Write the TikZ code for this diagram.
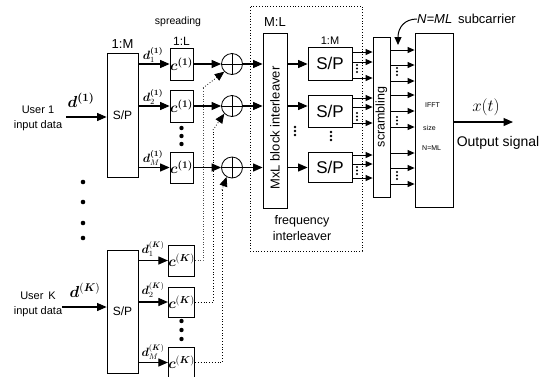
\RequirePackage{fix-cm}
\documentclass[tikz,border=0pt]{standalone}
\usepackage{bm}
\usepackage{fontspec}
\setmainfont{Liberation Sans}
\usetikzlibrary{arrows.meta,calc}
\begin{document}
\begin{tikzpicture}[x=1pt,y=-1pt,
  box/.style={draw,line width=0.8pt,inner sep=0pt,fill=white},
  arr/.style={line width=1.1pt,-{Triangle[length=9.5pt,width=8pt]}},
  sarr/.style={line width=0.9pt,-{Triangle[length=7pt,width=6pt]}},
  darr/.style={dotted,line width=0.8pt,-{Triangle[length=9.5pt,width=8pt]}},
  plus/.style={circle,draw,line width=0.8pt,minimum size=21pt,inner sep=0pt},
  lab/.style={inner sep=0pt},
  clab/.style={font=\fontsize{14.5}{14.5}\selectfont},
  dlab/.style={lab,font=\fontsize{12}{12}\selectfont},
]
\useasboundingbox (0,0) rectangle (549,376);

% frame
\node[draw,dotted,line width=0.8pt,minimum width=112pt,minimum height=245pt,inner sep=0pt] (frame) at (306,128.5) {};

% top labels
\node[lab,font=\fontsize{10.5}{10.5}\selectfont] (spread) at (178,22) {spreading};
\node[lab,font=\fontsize{13}{13}\selectfont] (r1m) at (122.5,44) {1:M};
\node[lab,font=\fontsize{12}{12}\selectfont] (r1l) at (181.5,41) {1:L};
\node[lab,font=\fontsize{13}{13}\selectfont] (rml) at (275,22) {M:L};
\node[lab,font=\fontsize{11}{11}\selectfont] (r1m2) at (330,41) {1:M};

% user 1
\node[lab,align=center,font=\fontsize{11}{15}\selectfont] (u1txt) at (38,118) {User 1\\input data};
\node[lab,font=\fontsize{16}{16}\selectfont] (d1in) at (81,100) {$\bm{d}^{\bm{(1)}}$};
\node[box,minimum width=31pt,minimum height=124pt,font=\fontsize{12}{12}\selectfont] (sp1) at (122.5,115) {S/P};
\coordinate (u1) at (66,117);
\draw[arr] (u1) -- (u1 -| sp1.west);

\foreach \n/\y/\h in {1/64/32,2/106/32,m/167.5/31}{
  \node[box,minimum width=23pt,minimum height=\h pt,clab] (c1\n) at (181.5,\y) {$\bm{c}^{\bm{(1)}}$};
  \draw[arr] (sp1.east |- c1\n) -- (c1\n.west);
  \node[plus] (p\n) at (232,\y) {};
  \draw[line width=0.8pt] (p\n.north) -- (p\n.south) (p\n.west) -- (p\n.east);
  \draw[arr] (c1\n.east) -- (p\n.west);
}
\node[dlab] (d11) at (153,55) {$\bm{d}_1^{\bm{(1)}}$};
\node[dlab] (d12) at (153,97) {$\bm{d}_2^{\bm{(1)}}$};
\node[dlab] (d1m) at (153,158) {$\bm{d}_M^{\bm{(1)}}$};
\foreach \y in {128,136,144}{\fill (181.5,\y) circle (2.2);}

% users dots
\foreach \y in {182,202,223,238}{\fill (83,\y) circle (2.3);}

% user K
\node[lab,align=center,font=\fontsize{11}{15}\selectfont] (uktxt) at (38,304) {User\, K\\input data};
\node[lab,font=\fontsize{16}{16}\selectfont] (dkin) at (85,290) {$\bm{d}^{(\bm{K})}$};
\node[box,minimum width=31pt,minimum height=123pt,font=\fontsize{12}{12}\selectfont] (spk) at (122.5,311.5) {S/P};
\coordinate (uk) at (62,307);
\draw[arr] (uk) -- (uk -| spk.west);
\foreach \n/\y/\h in {1/260.5/31,2/302/30,m/362.5/31}{
  \node[box,minimum width=23pt,minimum height=\h pt,clab] (ck\n) at (181.5,\y) {$\bm{c}^{(\bm{K})}$};
  \draw[arr] (spk.east |- ck\n) -- (ck\n.west);
}
\node[dlab] (dk1) at (153,249) {$\bm{d}_1^{(\bm{K})}$};
\node[dlab] (dk2) at (153,290) {$\bm{d}_2^{(\bm{K})}$};
\node[dlab] (dkm) at (153,352) {$\bm{d}_M^{(\bm{K})}$};
\foreach \y in {321,330,339}{\fill (181.5,\y) circle (2.2);}

% dotted feeds from user K to adders
\draw[dotted,line width=0.6pt,black!70] (ck1.east) -- (ck1.east -| 203,0) -- (203,88);
\draw[darr] (203,88) -- (p1.225);
\draw[dotted,line width=0.8pt] (ck2.east) -- (ck2.east -| 213,0) -- (213,130);
\draw[darr] (213,130) -- (p2.225);
\draw[dotted,line width=0.8pt] (ckm.east) -- (ckm.east -| 222,0) -- (222,190);
\draw[darr] (222,190) -- (pm.240);

% interleaver
\node[box,minimum width=24pt,minimum height=175pt] (il) at (275,120.5) {};
\node[lab,rotate=90,font=\fontsize{13}{13}\selectfont] (iltxt) at (275,128) {MxL block interleaver};
\foreach \n in {1,2,m}{\draw[arr] (p\n.east) -- (p\n.east -| il.west);}
\node[lab,align=center,font=\fontsize{12.5}{15.5}\selectfont] (fitxt) at (302,228) {frequency\\interleaver};

% right S/P
\node[box,minimum width=44pt,minimum height=33pt,font=\fontsize{17}{17}\selectfont] (spr1) at (330,63.5) {S/P};
\node[box,minimum width=44pt,minimum height=32pt,font=\fontsize{17}{17}\selectfont] (spr2) at (330,111) {S/P};
\node[box,minimum width=44pt,minimum height=30pt,font=\fontsize{17}{17}\selectfont] (spr3) at (330,167) {S/P};
\draw[arr] (il.east |- p1) -- (spr1.west |- p1);
\draw[arr] (il.east |- p2) -- (spr2.west |- p2);
\draw[arr] (il.east |- pm) -- (spr3.west |- pm);
\foreach \y in {127,131,135}{\fill (295,\y) circle (1.3);}
\foreach \y in {132,136,140}{\fill (331,\y) circle (1.3);}

% scrambling
\node[box,minimum width=17pt,minimum height=160pt] (scr) at (381.5,117) {};
\node[lab,rotate=90,font=\fontsize{12.5}{12.5}\selectfont] (scrtxt) at (381.5,117) {scrambling};
\foreach \y in {52,62,78}{\draw[sarr] (spr1.east |- 0,\y) -- (scr.west |- 0,\y);}
\foreach \y in {98,107,123}{\draw[sarr] (spr2.east |- 0,\y) -- (scr.west |- 0,\y);}
\foreach \y in {155,164,178}{\draw[sarr] (spr3.east |- 0,\y) -- (scr.west |- 0,\y);}
\foreach \y in {65,68.5,72,113,116.5,120,167,170.5,174}{\fill (357,\y) circle (1.1);}

% IFFT
\node[box,minimum width=38pt,minimum height=174pt] (ifft) at (434,120) {};
\foreach \y in {50,65,81,95,111,127,153,168,184}{\draw[sarr] (scr.east |- 0,\y) -- (ifft.west |- 0,\y);}
\foreach \y in {68,71.5,75,117,120.5,124,172,175.5,179}{\fill (397,\y) circle (1.1);}
\node[lab,anchor=west,font=\fontsize{7}{7}\selectfont] (t1) at (425,105) {IFFT};
\node[lab,anchor=west,font=\fontsize{7}{7}\selectfont] (t2) at (423,128) {size};
\node[lab,anchor=west,font=\fontsize{7}{7}\selectfont] (t3) at (422,148) {N=ML};

% output
\coordinate (out) at (513,122);
\draw[arr] (ifft.east |- out) -- (out);
\node[lab,font=\fontsize{17}{17}\selectfont] (xt) at (486,107) {$x(t)$};
\node[lab,font=\fontsize{14}{14}\selectfont] (outtxt) at (498,143) {Output signal};

% N=ML subcarrier
\node[lab,anchor=west,font=\fontsize{13}{13}\selectfont] (nml) at (417,19) {\textit{N=ML}\, subcarrier};
\coordinate (ntip) at (398,45);
\draw[line width=1pt,-{Triangle[length=8pt,width=7pt]}] (nml.west) .. controls (405,19) and (398,27) .. (ntip);
\end{tikzpicture}
\end{document}
